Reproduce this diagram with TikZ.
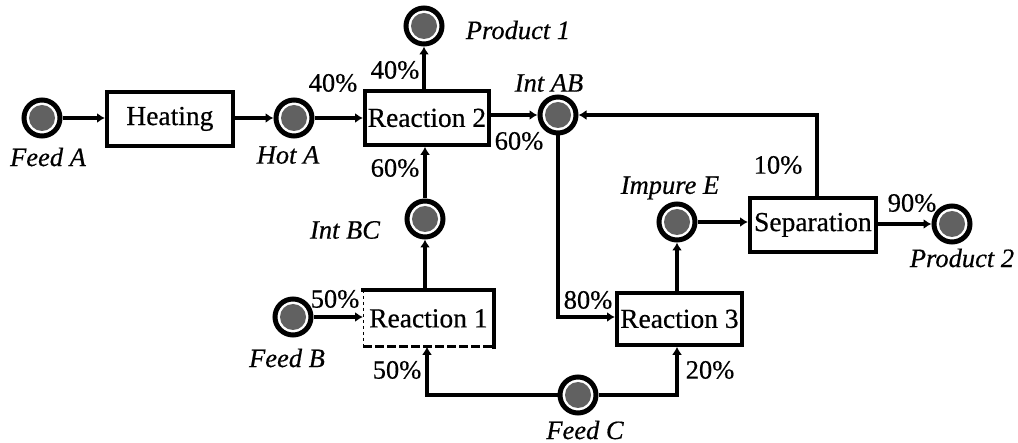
\documentclass[tikz,border=0pt]{standalone}
\usepackage{fontspec}
\setmainfont{Liberation Serif}
\newfontfamily\heavy[FakeBold=0.5]{Liberation Serif}
\usetikzlibrary{arrows.meta}
\tikzset{
  x=1pt,y=-1pt,
  stream/.style={circle,draw=black,line width=5pt,fill=white,minimum size=36pt,inner sep=0pt,
    path picture={\fill[black!62] (path picture bounding box.center) circle (13pt);}},
  unit/.style={draw=black,line width=3.8pt,anchor=north west,inner sep=0pt,align=center,font=\heavy\fontsize{27.5}{30}\selectfont},
  lbl/.style={inner sep=0pt,font=\heavy\fontsize{26.5}{28}\selectfont},
  sname/.style={inner sep=0pt,font=\heavy\fontsize{26.5}{28}\selectfont\itshape},
  flow/.style={draw=black,line width=3.4pt,-{Latex[length=8pt,width=10pt]}},
}
\begin{document}
\begin{tikzpicture}
\useasboundingbox (0,0) rectangle (1018,443);
% units
\node[unit,minimum width=126pt,minimum height=54pt] (heat) at (105,90) {Heating};
\node[unit,minimum width=124pt,minimum height=54pt] (r2) at (363,89) {Reaction 2};
\node[unit,draw=none,minimum width=127pt,minimum height=53pt] (r1) at (363,290) {Reaction 1};
\node[unit,minimum width=125pt,minimum height=52pt] (r3) at (615,291) {Reaction 3};
\node[unit,minimum width=126pt,minimum height=54pt] (sep) at (748,196) {Separation};
\draw[line width=3.8pt,line cap=rect] (r1.north west) -- (r1.north east) -- (r1.south east);
\draw[line width=1pt,dashed] (r1.north west) -- (r1.south west);
\draw[line width=3pt,dash pattern=on 9pt off 3pt] (r1.south west) -- (r1.south east);
% streams
\node[stream] (feedA) at (42,118) {};
\node[stream] (hotA) at (294,118) {};
\node[stream] (prod1) at (424,26) {};
\node[stream] (intAB) at (558,115) {};
\node[stream] (intBC) at (425,219) {};
\node[stream] (feedB) at (293,317) {};
\node[stream] (feedC) at (578,395) {};
\node[stream] (impE) at (677,222) {};
\node[stream] (prod2) at (952,224) {};
% junction points
\coordinate (sepUp) at (817,196);
\coordinate (sepCorner) at (817,115);
\coordinate (abDown) at (558,317);
\coordinate (r1In) at (427,395);
\coordinate (r3In) at (677,395);
% connectors
\draw[flow] (feedA) -- (heat.west |- feedA);
\draw[flow] (heat.east |- hotA) -- (hotA);
\draw[flow] (hotA) -- (r2.west |- hotA);
\draw[flow] (prod1 |- r2.north) -- (prod1);
\draw[flow] (intBC) -- (intBC |- r2.south);
\draw[flow] (r1.north -| intBC) -- (intBC);
\draw[flow] (r2.east |- intAB) -- (intAB);
\draw[flow] (sepUp) -- (sepCorner) -- (intAB);
\draw[flow] (intAB) -- (abDown) -- (r3.west |- abDown);
\draw[flow] (r3.north -| impE) -- (impE);
\draw[flow] (impE) -- (sep.west |- impE);
\draw[flow] (sep.east |- prod2) -- (prod2);
\draw[flow] (feedB) -- (r1.west |- feedB);
\draw[flow] (feedC) -- (r1In) -- (r1.south -| r1In);
\draw[flow] (feedC) -- (r3In) -- (r3.south -| r3In);
% stream names
\node[sname] (tFeedA) at (48,157) {Feed A};
\node[sname] (tHotA) at (288,155) {Hot A};
\node[sname] (tProd1) at (518,30) {Product 1};
\node[sname] (tIntAB) at (549,83) {Int AB};
\node[sname] (tIntBC) at (345,230) {Int BC};
\node[sname] (tFeedB) at (287,358) {Feed B};
\node[sname] (tFeedC) at (585,430) {Feed C};
\node[sname] (tImpE) at (670,188) {Impure E};
\node[sname] (tProd2) at (962,258) {Product 2};
% percentages
\node[lbl] (p1) at (333,83) {40\%};
\node[lbl] (p2) at (395,70) {40\%};
\node[lbl] (p3) at (395,168) {60\%};
\node[lbl] (p4) at (519,141) {60\%};
\node[lbl] (p5) at (778,165) {10\%};
\node[lbl] (p6) at (912,203) {90\%};
\node[lbl] (p7) at (335,299) {50\%};
\node[lbl] (p8) at (397,370) {50\%};
\node[lbl] (p9) at (588,300) {80\%};
\node[lbl] (p10) at (710,370) {20\%};
\end{tikzpicture}
\end{document}
